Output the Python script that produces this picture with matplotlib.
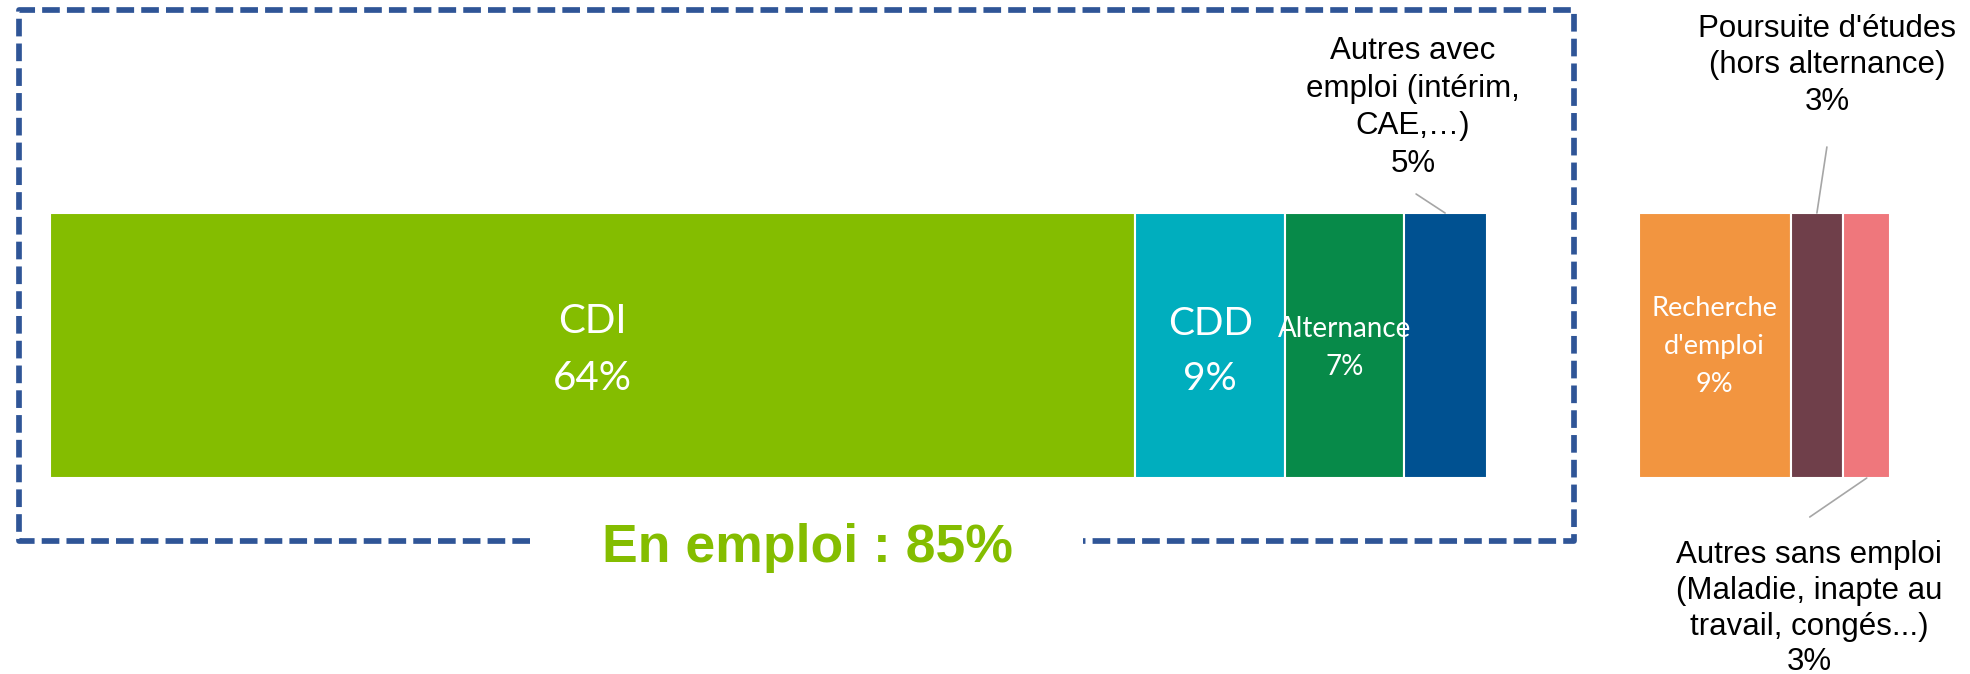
import matplotlib
matplotlib.use("Agg")
import matplotlib.pyplot as plt
import numpy as np

# ---------------- data ----------------
categories_emploi = ["CDI", "CDD", "Alternance", "Autres avec\nemploi (intérim,\nCAE,…)"]
values_emploi = [64.2, 8.9, 7.0, 4.9]
pct_emploi = ["64%", "9%", "7%", "5%"]

categories_sans = ["Recherche\nd'emploi", "Poursuite d'études\n(hors alternance)",
                   "Autres sans emploi\n(Maladie, inapte au\ntravail, congés...)"]
values_sans = [9.0, 3.1, 2.8]
pct_sans = ["9%", "3%", "3%"]

total_label = "En emploi : 85%"

colors_emploi = ['#84BD00', '#00AEBE', '#078A49', '#005191']
colors_sans = ['#F29540', '#6F3F4A', '#EF777C']

# ---------------- layout ----------------
W, H = 1970, 674
S = 16.9      # pixels per percent
X0 = 50       # pixel where bars start
GAP = 9.0     # gap between the two groups (in % units)
BAR_TOP, BAR_BOT = 213, 478
IN_FONT = 'Lato'
OUT_FONT = 'Liberation Sans'
LEADER = '#A6A6A6'

fig = plt.figure(figsize=(W / 100, H / 100), dpi=100)
ax = fig.add_axes([0, 0, 1, 1])
ax.set_xlim(-X0 / S, (W - X0) / S)
ax.set_ylim(H, 0)
ax.axis('off')

ov = fig.add_axes([0, 0, 1, 1], zorder=3)
ov.set_xlim(0, W)
ov.set_ylim(H, 0)
ov.axis('off')
ov.patch.set_alpha(0)

left_e = np.concatenate([[0], np.cumsum(values_emploi)[:-1]])
start_s = sum(values_emploi) + GAP
left_s = start_s + np.concatenate([[0], np.cumsum(values_sans)[:-1]])
centers_e = left_e + np.array(values_emploi) / 2
centers_s = left_s + np.array(values_sans) / 2

yc = (BAR_TOP + BAR_BOT) / 2
hgt = BAR_BOT - BAR_TOP
ax.barh(yc, values_emploi, left=left_e, height=hgt, color=colors_emploi,
        edgecolor='white', linewidth=1.5)
ax.barh(yc, values_sans, left=left_s, height=hgt, color=colors_sans,
        edgecolor='white', linewidth=1.5)


def lines(axis, x, y0, dy, text, **kw):
    for i, line in enumerate(text.split("\n")):
        axis.text(x, y0 + i * dy, line, ha='center', va='baseline', **kw)


# labels inside bars
lines(ax, centers_e[0], 333, 57, categories_emploi[0] + "\n" + pct_emploi[0],
      fontsize=29, color='white', family=IN_FONT)
lines(ax, centers_e[1], 335, 55, categories_emploi[1] + "\n" + pct_emploi[1],
      fontsize=28, color='white', family=IN_FONT)
lines(ax, centers_e[2], 336.7, 38.3, categories_emploi[2] + "\n" + pct_emploi[2],
      fontsize=20, color='white', family=IN_FONT)
lines(ax, centers_s[0], 316, 38, categories_sans[0] + "\n" + pct_sans[0],
      fontsize=19.5, color='white', family=IN_FONT)

# labels outside bars
lines(ov, 1413, 59.3, 37.5, categories_emploi[3] + "\n" + pct_emploi[3],
      fontsize=22.5, color='black', family=OUT_FONT)
lines(ov, 1827, 36.7, 36.5, categories_sans[1] + "\n" + pct_sans[1],
      fontsize=22.5, color='black', family=OUT_FONT)
lines(ov, 1809, 563, 35.8, categories_sans[2] + "\n" + pct_sans[2],
      fontsize=22.5, color='black', family=OUT_FONT)

# leader lines
lp = dict(arrowstyle='-', color=LEADER, lw=1.2, shrinkA=0, shrinkB=0)
ax.annotate("", xy=(centers_e[3], BAR_TOP), xytext=(-29, 19),
            textcoords='offset pixels', arrowprops=lp)
ax.annotate("", xy=(centers_s[1], BAR_TOP), xytext=(10, 66),
            textcoords='offset pixels', arrowprops=lp)
ax.annotate("", xy=(centers_s[2], BAR_BOT), xytext=(-57, -39),
            textcoords='offset pixels', arrowprops=lp)

# dashed bracket around "en emploi"
ov.plot([530, 19, 19, 1574, 1574, 1083], [541, 541, 9.5, 9.5, 541, 541],
        color='#2F5597', lw=4.1, dashes=(3.1, 1.25), dash_capstyle='butt',
        solid_joinstyle='miter')
ov.text(807, 561.7, total_label, ha='center', va='baseline', fontsize=38.5,
        fontweight='bold', color='#84BD00', family=OUT_FONT)

fig.savefig("out.png", dpi=100)
